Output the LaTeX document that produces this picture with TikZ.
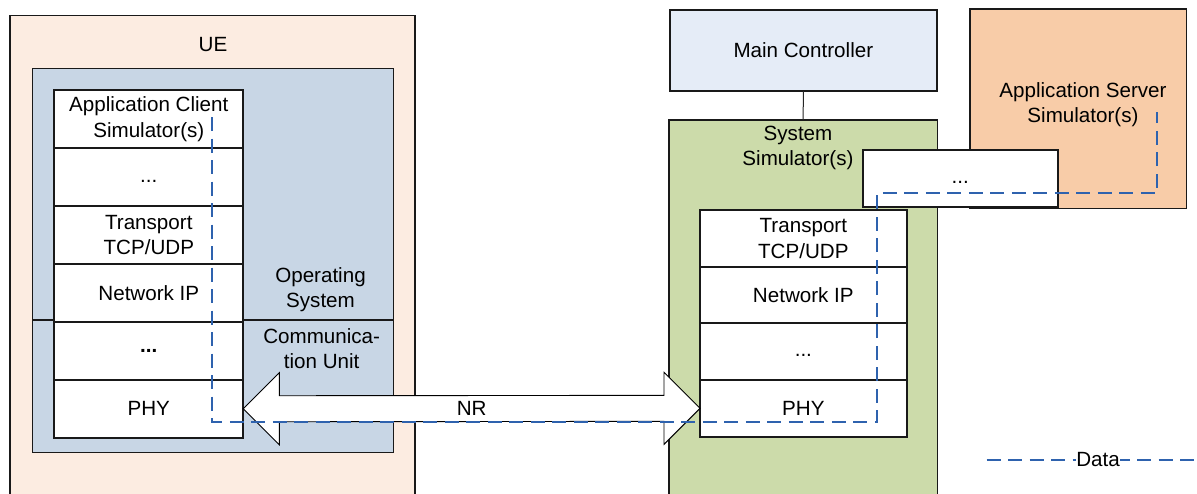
\documentclass[tikz,border=0pt]{standalone}
\usepackage{fontspec}
\setmainfont{Liberation Sans}
\usetikzlibrary{calc}
\definecolor{uefill}{HTML}{FCECE1}
\definecolor{osfill}{HTML}{C8D6E5}
\definecolor{mcfill}{HTML}{E5ECF7}
\definecolor{simfill}{HTML}{CCDBAA}
\definecolor{asfill}{HTML}{F8CCA8}
\definecolor{datablue}{HTML}{2E62AE}
\begin{document}
\begin{tikzpicture}[x=1pt,y=-1pt,
  font=\fontsize{20.6}{25.5}\selectfont,
  box/.style={draw=black!90, line width=1.5pt, inner sep=0pt, outer sep=0pt, align=center},
  lstack/.style={box, fill=white, line width=2pt, minimum width=189pt, minimum height=57.95pt},
  rstack/.style={box, fill=white, line width=2pt, minimum width=206.7pt, minimum height=56.7pt},
  txt/.style={inner sep=0pt, align=center},
  bigarr/.style={draw=black, line width=0.9pt, fill=white, line join=miter},
  data/.style={draw=datablue, line width=1.8pt, dash pattern=on 14pt off 7.5pt}]
\useasboundingbox (0,0) rectangle (1197,493);
\clip (0,0) rectangle (1197,493);
% UE side
\node[box, fill=uefill, minimum width=405pt, minimum height=490pt] (ue) at (212.5,260.7) {};
\node[txt] (uelabel) at (213,45) {UE};
\node[box, fill=osfill, minimum width=361pt, minimum height=384pt] (os) at (212.8,260.3) {};
\draw[black!90, line width=1.5pt] (os.west |- 0,320) coordinate (divL) -- (os.east |- 0,320) coordinate (divR);
\node[lstack] (acs) at (148.8,118.98) {Application Client\\Simulator(s)};
\node[lstack] (l2) at (148.8,176.93) {...\strut};
\node[lstack] (ltr) at (148.8,234.88) {Transport\\TCP/UDP};
\node[lstack] (lnw) at (148.8,292.83) {Network IP};
\node[lstack] (l5) at (148.8,350.78) {\bfseries ...};
\node[lstack] (lphy) at (148.8,408.73) {PHY};
\node[txt] (oslabel) at (320.5,289.5) {Operating\\System};
\node[txt] (culabel) at (321.7,348.5) {Communica-\\tion Unit};
% Controller and simulators
\node[box, fill=mcfill, line width=1.8pt, minimum width=266.7pt, minimum height=81pt, text height=14.8pt] (mc) at (803.35,50.5) {Main Controller};
\node[box, fill=simfill, minimum width=268.3pt, minimum height=390pt] (sys) at (803.15,315) {};
\draw[black!85, line width=1pt] (mc.south) -- (sys.north);
\node[txt] (syslabel) at (798,148) {System\\Simulator(s)};
\node[box, fill=asfill, minimum width=216.7pt, minimum height=199.3pt] (as) at (1078.35,108.65) {};
\node[txt] (aslabel) at (1083,104.5) {Application Server\\Simulator(s)};
\node[box, fill=white, line width=1.8pt, minimum width=195pt, minimum height=57.3pt] (mid) at (960.2,178.65) {...\strut};
\node[rstack] (rtr) at (803.35,238.35) {Transport\\TCP/UDP};
\node[rstack] (rnw) at (803.35,295.0) {Network IP};
\node[rstack] (r3) at (803.35,351.7) {...\strut};
\node[rstack] (rphy) at (803.35,408.35) {PHY};
% NR double arrow
\draw[bigarr] (lphy.east) -- ++(36,-36) -- ++(0,23) -- ($(rphy.west)+(-36,-13)$) -- ++(0,-23)
  -- (rphy.west) -- ++(-36,36) -- ++(0,-23) -- ($(lphy.east)+(36,13)$) -- ++(0,23) -- cycle;
\node[txt] (nr) at ($(lphy.east)!0.5!(rphy.west)$) {NR};
% Data path
\coordinate (d0) at (212,117);
\coordinate (d1) at (212,421.7);
\coordinate (d2) at (877.3,421.7);
\coordinate (d3) at (877.3,193.3);
\coordinate (d4) at (1156.7,193.3);
\coordinate (d5) at (1156.7,112);
\draw[data] (d0) -- (d1) -- (d2) -- (d3) -- (d4) -- (d5);
% Legend
\coordinate (lg1) at (986.7,460);
\coordinate (lg2) at (1200,460);
\draw[data] (lg1) -- (lg2);
\node[txt, fill=white, inner xsep=0.5pt] (lgtext) at (1098,460) {Data};
\end{tikzpicture}
\end{document}
